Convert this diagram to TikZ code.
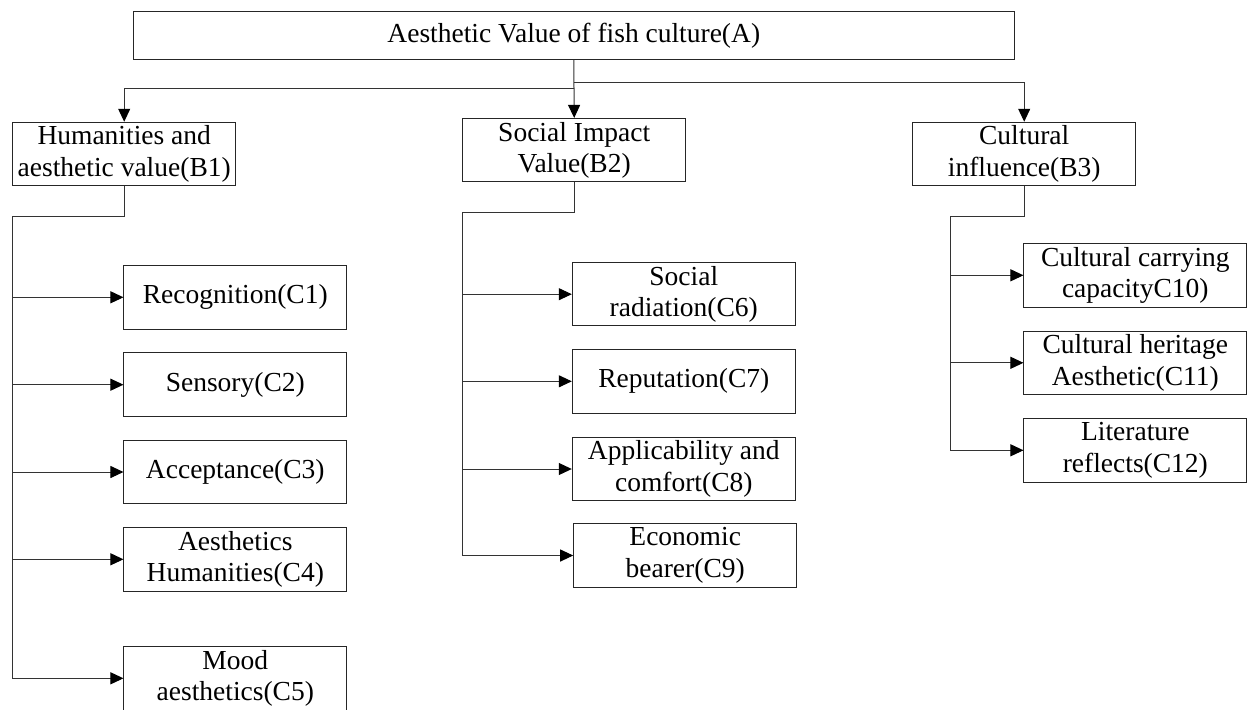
\documentclass[tikz,border=0pt]{standalone}
\usepackage{fontspec}
\setmainfont{Liberation Serif}
\usetikzlibrary{arrows.meta}
\begin{document}
\begin{tikzpicture}[x=1pt,y=-1pt,
  box/.style={draw=black!85, line width=1pt, minimum width=223pt, minimum height=63.5pt,
    inner sep=0pt, align=center, font=\fontsize{27.5}{31.5}\selectfont},
  wire/.style={draw=black!80, line width=1pt},
  arr/.style={wire, -{Triangle[length=13pt,width=12pt,color=black]}}]
\useasboundingbox (0,0) rectangle (1252,709);
\clip (0,0) rectangle (1252,709);
% top
\node[box, minimum width=881pt, minimum height=47.6pt] (A) at (573.8,35.5) {Aesthetic Value of fish culture(A)};
\node[box] (B1) at (124.2,154) {Humanities and\\aesthetic value(B1)};
\node[box] (B2) at (574.2,150.2) {Social Impact\\Value(B2)};
\node[box] (B3) at (1024.2,154) {Cultural\\influence(B3)};
% C column 1
\node[box, minimum width=222.7pt] (C1) at (235.3,297.3) {Recognition(C1)};
\node[box, minimum width=222.7pt] (C2) at (235.3,384.7) {Sensory(C2)};
\node[box, minimum width=222.7pt] (C3) at (235.3,472) {Acceptance(C3)};
\node[box, minimum width=222.7pt] (C4) at (235.3,559.3) {Aesthetics\\Humanities(C4)};
\node[box, minimum width=222.7pt] (C5) at (235.3,678.3) {Mood\\aesthetics(C5)};
% C column 2
\node[box] (C6) at (683.8,294.2) {Social\\radiation(C6)};
\node[box] (C7) at (683.8,381.3) {Reputation(C7)};
\node[box] (C8) at (683.8,469) {Applicability and\\comfort(C8)};
\node[box] (C9) at (685.2,555.5) {Economic\\bearer(C9)};
% C column 3
\node[box, minimum width=222.7pt] (C10) at (1135.3,275.3) {Cultural carrying\\capacityC10)};
\node[box, minimum width=222.7pt] (C11) at (1135.3,362.8) {Cultural heritage\\Aesthetic(C11)};
\node[box, minimum width=222.7pt] (C12) at (1135.3,450.3) {Literature\\reflects(C12)};
% junction coordinates
\coordinate (jL) at (573.8,88.3);
\coordinate (jR) at (573.8,82.7);
\coordinate (bus1) at (12.7,216);
\coordinate (bus2) at (462.7,212.3);
\coordinate (bus3) at (950.7,216);
% A to B
\draw[arr] (A.south) -- (B2.north);
\draw[arr] (jL) -| (B1.north);
\draw[arr] (jR) -| (B3.north);
% B1 to C
\draw[arr] (B1.south) |- (bus1) |- (C5.west);
\foreach \c in {C1,C2,C3,C4} \draw[arr] (bus1 |- \c.west) -- (\c.west);
% B2 to C
\draw[arr] (B2.south) |- (bus2) |- (C9.west);
\foreach \c in {C6,C7,C8} \draw[arr] (bus2 |- \c.west) -- (\c.west);
% B3 to C
\draw[arr] (B3.south) |- (bus3) |- (C12.west);
\foreach \c in {C10,C11} \draw[arr] (bus3 |- \c.west) -- (\c.west);
\end{tikzpicture}
\end{document}
